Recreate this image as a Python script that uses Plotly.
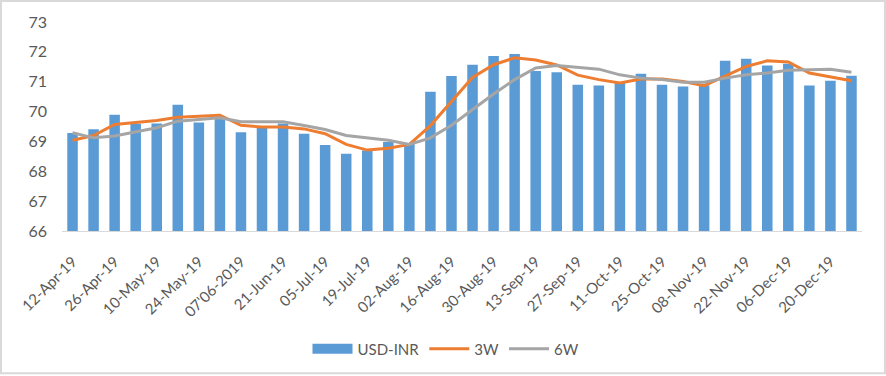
import plotly.graph_objects as go

dates = ["12-Apr-19","19-Apr-19","26-Apr-19","03-May-19","10-May-19","17-May-19","24-May-19","31-May-19",
         "07'06-2019","14-Jun-19","21-Jun-19","28-Jun-19","05-Jul-19","12-Jul-19","19-Jul-19","26-Jul-19",
         "02-Aug-19","09-Aug-19","16-Aug-19","23-Aug-19","30-Aug-19","06-Sep-19","13-Sep-19","20-Sep-19",
         "27-Sep-19","04-Oct-19","11-Oct-19","18-Oct-19","25-Oct-19","01-Nov-19","08-Nov-19","15-Nov-19",
         "22-Nov-19","29-Nov-19","06-Dec-19","13-Dec-19","20-Dec-19","27-Dec-19"]

usd_inr = [69.28,69.41,69.89,69.59,69.60,70.23,69.63,69.84,69.31,69.51,69.60,69.26,68.88,68.59,68.70,68.98,
           68.93,70.66,71.19,71.57,71.86,71.93,71.36,71.32,70.90,70.87,70.97,71.27,70.90,70.84,70.88,71.70,
           71.77,71.54,71.60,70.87,71.03,71.20]

w3 = [69.04,69.20,69.57,69.64,69.70,69.81,69.84,69.88,69.54,69.48,69.48,69.42,69.26,68.90,68.71,68.77,
      68.90,69.53,70.34,71.14,71.57,71.80,71.73,71.56,71.22,71.07,70.96,71.09,71.09,71.01,70.87,71.20,
      71.51,71.70,71.66,71.29,71.16,71.03]

w6 = [69.29,69.12,69.18,69.31,69.46,69.68,69.73,69.79,69.66,69.66,69.66,69.53,69.40,69.20,69.11,69.04,
      68.90,69.12,69.54,70.07,70.59,71.07,71.46,71.54,71.49,71.42,71.23,71.12,71.07,70.98,70.98,71.12,
      71.23,71.29,71.38,71.40,71.42,71.32]

tick_idx = list(range(0, len(dates), 2))
tick_text = [dates[i] for i in tick_idx]

font_family = "Lato, 'Open Sans', sans-serif"
txt = "#595959"
blue = "#5B9BD5"

fig = go.Figure()
fig.add_trace(go.Bar(x=dates, y=usd_inr, name="USD-INR", marker=dict(color=blue, line=dict(width=0)),
                     showlegend=False))
# legend proxy for the bar series (wide rectangle symbol)
fig.add_trace(go.Scatter(x=[None], y=[None], name="USD-INR", mode="lines",
                         line=dict(color=blue, width=10)))
fig.add_trace(go.Scatter(x=dates, y=w3, name="3W", mode="lines", line=dict(color="#ED7D31", width=3)))
fig.add_trace(go.Scatter(x=dates, y=w6, name="6W", mode="lines", line=dict(color="#A5A5A5", width=3)))

fig.update_layout(
    width=886, height=376,
    margin=dict(l=62, r=24, t=22, b=144),
    paper_bgcolor="white", plot_bgcolor="white",
    bargap=0.5,
    font=dict(family=font_family, color=txt, size=15),
    showlegend=True,
    legend=dict(orientation="h", x=0.48, xanchor="center", y=-0.557, yanchor="middle",
                font=dict(size=15, color=txt), traceorder="normal", itemwidth=40),
    xaxis=dict(type="category", tickmode="array", tickvals=[dates[i] for i in tick_idx], ticktext=tick_text,
               tickangle=-45, showgrid=False, showline=True, linecolor="#D9D9D9", linewidth=1,
               ticks="", tickfont=dict(size=15, color=txt), ticklabelstandoff=15,
               range=[-0.5, len(dates) - 0.5]),
    yaxis=dict(range=[66, 73], dtick=1, showgrid=False, showline=False, zeroline=False,
               tickfont=dict(size=16, color=txt), ticks="", ticklabelstandoff=14),
    shapes=[dict(type="rect", xref="paper", yref="paper",
                 x0=(1 - 62) / 800, x1=(885 - 62) / 800,
                 y0=(232 - 375) / 210, y1=(232 - 1) / 210,
                 line=dict(color="#D9D9D9", width=2), fillcolor="rgba(0,0,0,0)", layer="below")],
)

fig.write_html("out.html", config={"displayModeBar": False},
               post_script="document.body.style.margin='0';document.body.style.overflow='hidden';")
